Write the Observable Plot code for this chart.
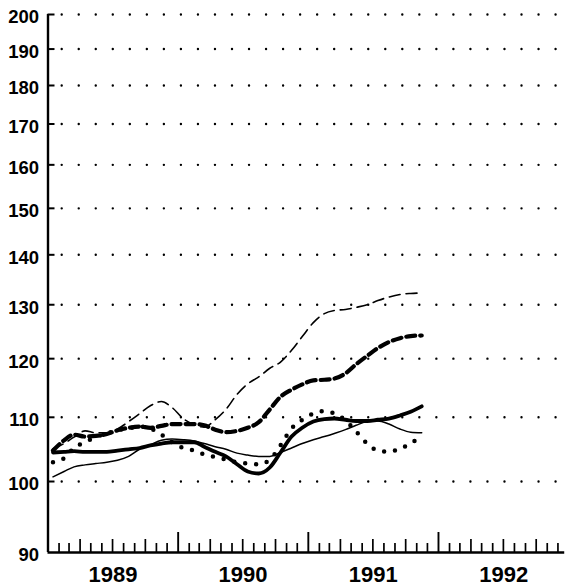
<!DOCTYPE html>
<html>
<head>
<meta charset="utf-8">
<script src="https://cdn.jsdelivr.net/npm/d3@7"></script>
<script src="https://cdn.jsdelivr.net/npm/@observablehq/plot@0.6"></script>
<style>
  html, body { margin: 0; padding: 0; background: white; }
  #chart { width: 569px; height: 587px; }
</style>
</head>
<body>
<div id="chart"></div>
<script>
// Monthly observations, Jan 1989 – Nov 1991 (plotted mid-month)
const months = d3.utcMonth.range(new Date(Date.UTC(1989, 0, 1)), new Date(Date.UTC(1991, 11, 1)))
  .map(d => d3.utcDay.offset(d, 14));

const thinDashed = [105.0,105.8,106.8,107.8,107.5,107.5,108.1,109.3,110.6,111.9,112.6,111.6,109.8,108.8,108.4,109.6,111.3,113.8,115.6,116.8,118.3,119.4,121.5,124.0,126.6,128.3,128.9,129.1,129.5,130.0,130.8,131.5,132.0,132.2,132.3];
const thickDashed = [104.7,106.3,107.2,106.9,107.0,107.3,107.9,108.3,108.5,108.3,108.6,108.9,108.9,108.9,108.7,108.0,107.6,107.8,108.3,109.2,111.3,113.4,114.6,115.5,116.2,116.3,116.5,117.4,119.0,120.5,121.9,123.0,123.7,124.1,124.2];
const thickSolid = [104.4,104.5,104.6,104.5,104.5,104.5,104.7,104.9,105.1,105.5,105.8,106.0,106.0,106.0,105.3,104.5,103.8,102.6,101.5,101.2,102.1,104.4,106.9,108.3,109.3,109.7,109.8,109.6,109.4,109.4,109.6,109.8,110.3,110.9,111.8];
const thinSolid = [100.7,101.5,102.2,102.5,102.7,102.9,103.2,103.8,104.9,105.6,106.3,106.5,106.4,106.2,105.8,105.3,104.9,104.3,104.0,103.8,103.8,104.4,105.1,105.8,106.4,106.9,107.4,108.0,108.7,109.3,109.4,108.9,108.1,107.6,107.5];
const dotted = [102.9,103.5,105.1,106.0,106.8,107.4,107.9,108.2,108.5,108.2,107.2,106.0,105.1,104.7,104.1,103.7,103.3,102.9,102.7,102.6,103.3,105.5,108.2,109.6,110.6,111.0,110.6,109.5,107.7,105.8,104.7,104.5,105.0,105.8,107.1];

const yTicks = [90,100,110,120,130,140,150,160,170,180,190,200];
const yearLabels = ["1989","1990","1991","1992"];

const xStart = new Date(Date.UTC(1989, 0, 1));
const xEnd = new Date(Date.UTC(1993, 0, 1));
const axisEnd = new Date(Date.UTC(1992, 11, 20));
const tickMonths = d3.utcMonth.range(new Date(Date.UTC(1989, 1, 1)), xEnd);
const yearTicks = tickMonths.filter(d => d.getUTCMonth() === 0);
const quarterTicks = tickMonths.filter(d => d.getUTCMonth() % 3 === 0 && d.getUTCMonth() !== 0);
const monthTicks = tickMonths.filter(d => d.getUTCMonth() % 3 !== 0);
const yearMid = yearLabels.map(y => new Date(Date.UTC(+y, 6, 2)));

const series = (vals) => vals.map((v, i) => ({date: months[i], value: v}));

const font = "Liberation Sans, Arial, sans-serif";

const chart = Plot.plot({
  width: 569,
  height: 587,
  marginLeft: 0, marginRight: 0, marginTop: 0, marginBottom: 0,
  style: {background: "white", fontFamily: font},
  x: {type: "utc", domain: [xStart, xEnd], range: [47.5, 568.5], axis: null},
  y: {type: "log", domain: [90, 200], range: [552, 14], axis: null},
  marks: [
    // dotted grid lines
    Plot.ruleY(yTicks.filter(d => d !== 90), {y: d => d, x1: xStart, x2: axisEnd,
      stroke: "black", strokeWidth: 2.4, strokeDasharray: "0,17.03", strokeDashoffset: 2.83, strokeLinecap: "round"}),
    // short inward y ticks
    Plot.ruleY(yTicks.filter(d => d !== 90), {y: d => d, x1: xStart, x2: xStart, insetRight: -7, stroke: "black", strokeWidth: 2}),
    // axes lines
    Plot.ruleX([xStart], {x: d => d, y1: 90, y2: 200, stroke: "black", strokeWidth: 2.4}),
    Plot.ruleY([90], {y: d => d, x1: xStart, x2: axisEnd, stroke: "black", strokeWidth: 2.4}),
    // x ticks
    Plot.ruleX(monthTicks, {x: d => d, y1: 90, y2: 90, insetTop: -9, stroke: "black", strokeWidth: 1.7}),
    Plot.ruleX(quarterTicks, {x: d => d, y1: 90, y2: 90, insetTop: -13, stroke: "black", strokeWidth: 1.7}),
    Plot.ruleX(yearTicks, {x: d => d, y1: 90, y2: 90, insetTop: -20, stroke: "black", strokeWidth: 1.9}),
    // y labels
    Plot.text(yTicks, {x: xStart, y: d => d, text: d => String(d), textAnchor: "end", dx: -9, dy: 3,
      fontSize: 18.5, fontWeight: "bold", fill: "black", fontFamily: font}),
    // x labels
    Plot.text(yearLabels, {x: (d, i) => yearMid[i], y: 90, text: d => d, textAnchor: "middle", dy: 22,
      fontSize: 22, fontWeight: "bold", fill: "black", fontFamily: font}),
    // series
    Plot.line(series(thinSolid), {x: "date", y: "value", stroke: "black", strokeWidth: 1.5, curve: "monotone-x"}),
    Plot.line(series(thinDashed), {x: "date", y: "value", stroke: "black", strokeWidth: 1.6, strokeDasharray: "11,6", curve: "monotone-x"}),
    Plot.line(series(thickDashed), {x: "date", y: "value", stroke: "black", strokeWidth: 4.2, strokeDasharray: "9,5", curve: "monotone-x"}),
    Plot.line(series(thickSolid), {x: "date", y: "value", stroke: "black", strokeWidth: 3.8, curve: "monotone-x"}),
    Plot.line(series(dotted), {x: "date", y: "value", stroke: "black", strokeWidth: 4.5, strokeDasharray: "0,11", strokeLinecap: "round", curve: "monotone-x"})
  ]
});
document.getElementById("chart").appendChild(chart);
</script>
</body>
</html>
